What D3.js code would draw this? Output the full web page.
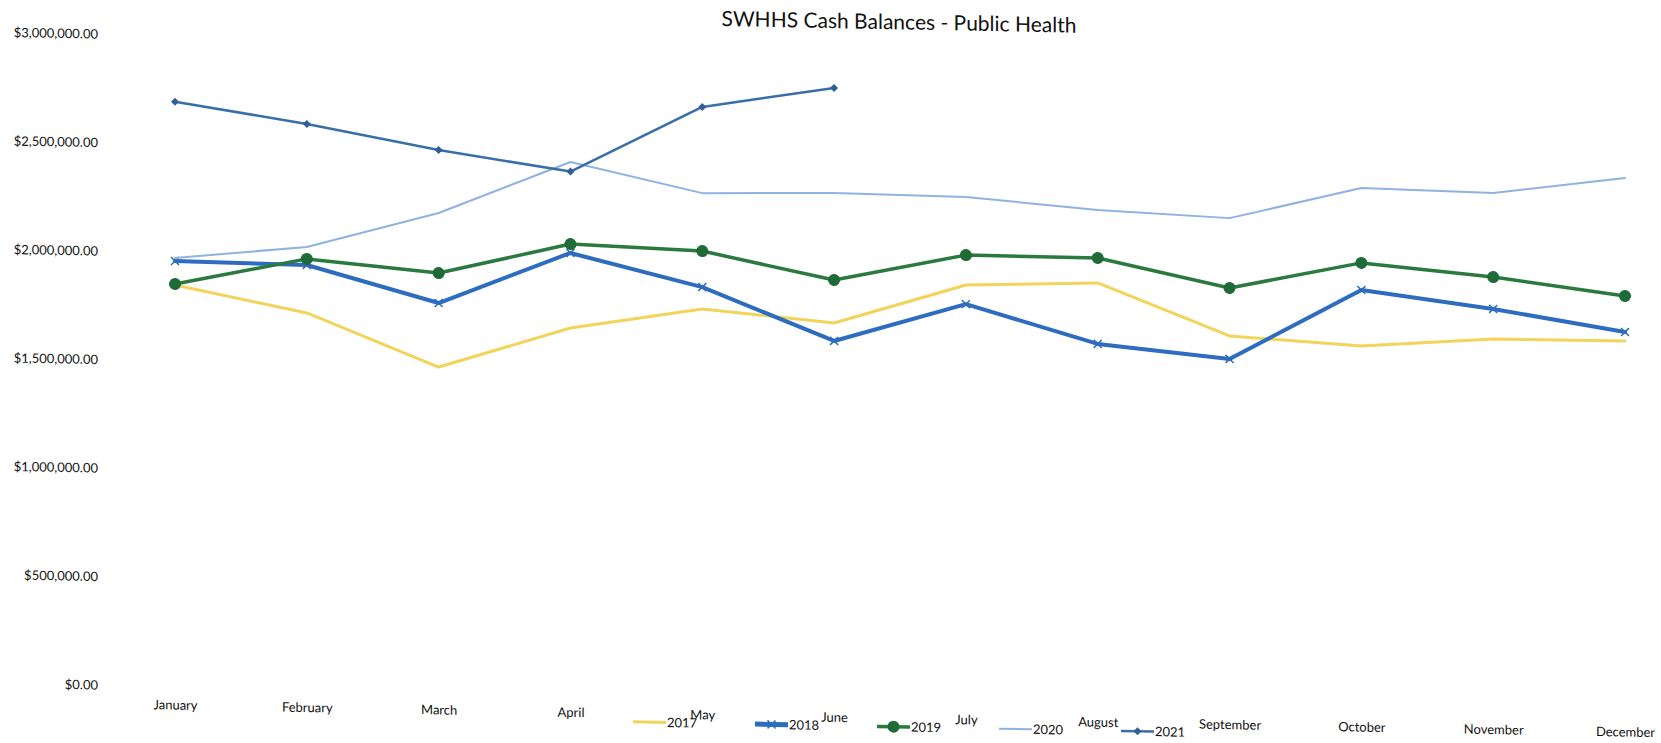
<!DOCTYPE html>
<html>
<head>
<meta charset="utf-8">
<script src="https://cdn.jsdelivr.net/npm/d3@7"></script>
<style>
  html, body { margin: 0; padding: 0; background: #ffffff; }
  svg { display: block; }
  text { font-family: Lato, "Open Sans", sans-serif; fill: #111111; }
</style>
</head>
<body>
<svg id="chart" width="1661" height="743"></svg>
<script>
// Month-end cash balances, Public Health fund
const months = ["January", "February", "March", "April", "May", "June",
  "July", "August", "September", "October", "November", "December"];

const cash2017 = [1849000, 1732000, 1494000, 1685000, 1784000, 1731000,
  1917000, 1938000, 1705000, 1670000, 1713000, 1716000];
const cash2018 = [1960000, 1953000, 1789000, 2031000, 1885000, 1648000,
  1829000, 1657000, 1599000, 1928000, 1852000, 1757000];
const cash2019 = [1854000, 1981000, 1927000, 2072000, 2051000, 1929000,
  2055000, 2053000, 1926000, 2053000, 1999000, 1923000];
const cash2020 = [1974000, 2036000, 2204000, 2450000, 2318000, 2330000,
  2323000, 2274000, 2248000, 2398000, 2386000, 2467000];
const cash2021 = [2694000, 2603000, 2494000, 2406000, 2715000, 2814000];

const yTicks = [0, 500000, 1000000, 1500000, 2000000, 2500000, 3000000];
const seriesNames = ["2017", "2018", "2019", "2020", "2021"];

const series = [
  { name: seriesNames[0], values: cash2017, color: "#f3d45a", width: 3, marker: "none" },
  { name: seriesNames[1], values: cash2018, color: "#2d6cbf", width: 4, marker: "x" },
  { name: seriesNames[2], values: cash2019, color: "#2a7a40", width: 3.5, marker: "circle" },
  { name: seriesNames[3], values: cash2020, color: "#8fb2e0", width: 2, marker: "none" },
  { name: seriesNames[4], values: cash2021, color: "#3a6ea8", width: 2.5, marker: "diamond" }
];

const svg = d3.select("#chart");
// the printed page sits slightly slanted: a small vertical shear
const k = 0.0186;
const root = svg.append("g")
  .attr("transform", `matrix(1,${k},0,1,0,${-k * 50})`);

const x = d3.scalePoint().domain(months).range([175, 1625]);
const y = d3.scaleLinear().domain([0, 3000000]).range([684, 33]);

// title
root.append("text")
  .attr("x", 899).attr("y", 5)
  .attr("text-anchor", "middle")
  .attr("dominant-baseline", "central")
  .style("font-size", "21px")
  .text("SWHHS Cash Balances - Public Health");

// value axis
const yAxis = root.append("g")
  .attr("transform", "translate(103,0)")
  .call(d3.axisLeft(y).tickValues(yTicks).tickSize(0).tickPadding(5)
    .tickFormat(d3.format("$,.2f")));
yAxis.select(".domain").remove();
yAxis.selectAll("text").style("font-size", "13px").style("font-family", "Lato, sans-serif").attr("fill", "#111111");

// month axis
const xAxis = root.append("g")
  .attr("transform", `translate(0,${y(0)})`)
  .call(d3.axisBottom(x).tickSize(0).tickPadding(14));
xAxis.select(".domain").remove();
xAxis.selectAll("text").style("font-size", "13px").style("font-family", "Lato, sans-serif").attr("fill", "#111111");

const line = d3.line()
  .x((d, i) => x(months[i]))
  .y(d => y(d));

function drawMarker(g, type, cx, cy, color) {
  if (type === "circle") {
    g.append("circle").attr("cx", cx).attr("cy", cy).attr("r", 5.5)
      .attr("fill", "#1f6b37").attr("stroke", "#1f6b37");
  } else if (type === "diamond") {
    const s = 4;
    g.append("path")
      .attr("d", `M${cx},${cy - s}L${cx + s},${cy}L${cx},${cy + s}L${cx - s},${cy}Z`)
      .attr("fill", "#2f5f95");
  } else if (type === "x") {
    const s = 4;
    g.append("path")
      .attr("d", `M${cx - s},${cy - s}L${cx + s},${cy + s}M${cx - s},${cy + s}L${cx + s},${cy - s}`)
      .attr("stroke", color).attr("stroke-width", 1.5).attr("fill", "none");
  }
}

const plot = root.append("g");
series.forEach(s => {
  const g = plot.append("g");
  g.append("path")
    .datum(s.values)
    .attr("d", line)
    .attr("fill", "none")
    .attr("stroke", s.color)
    .attr("stroke-width", s.width)
    .attr("stroke-linejoin", "round")
    .attr("stroke-linecap", "round");
  s.values.forEach((v, i) => drawMarker(g, s.marker, x(months[i]), y(v), s.color));
});

// legend along the bottom
const legend = root.append("g").attr("transform", "translate(633,711)");
series.forEach((s, i) => {
  const g = legend.append("g").attr("transform", `translate(${i * 122},0)`);
  g.append("line")
    .attr("x1", 0).attr("x2", 33).attr("y1", 0).attr("y2", 0)
    .attr("stroke", s.color)
    .attr("stroke-width", s.marker === "x" ? 5 : s.width);
  drawMarker(g, s.marker, 16.5, 0, s.color);
  g.append("text")
    .attr("x", 34).attr("y", 0)
    .attr("dy", "0.35em")
    .style("font-size", "13px")
    .text(s.name);
});
</script>
</body>
</html>
